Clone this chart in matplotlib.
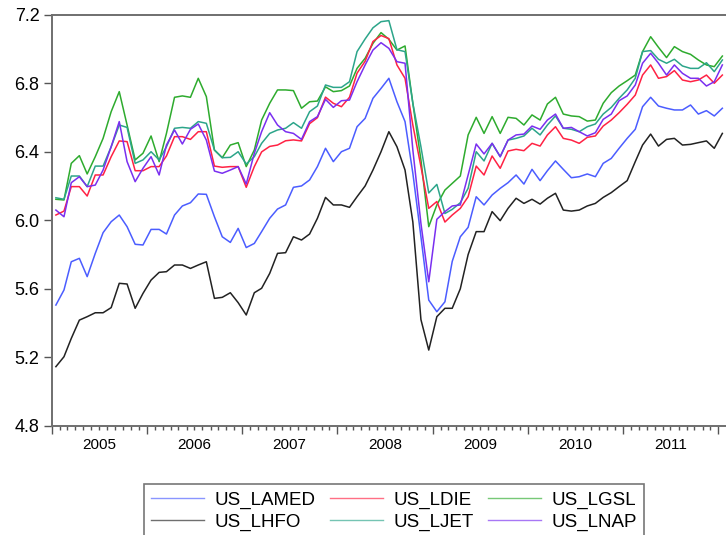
import pandas as pd
import matplotlib
matplotlib.use("Agg")
import matplotlib.pyplot as plt
import matplotlib.dates as mdates
import matplotlib.transforms as mtransforms

plt.rcParams['font.family'] = ['Liberation Sans', 'DejaVu Sans']

# monthly observations, 2005M01 .. 2012M01
months = pd.date_range("2005-01-01", periods=85, freq="MS") + pd.Timedelta(days=15)
years = [2005, 2006, 2007, 2008, 2009, 2010, 2011]

us_lamed = [5.505, 5.593, 5.758, 5.778, 5.671, 5.807, 5.928, 5.992, 6.031, 5.963, 5.860, 5.856, 5.947, 5.947, 5.920, 6.031, 6.084,
            6.103, 6.154, 6.152, 6.021, 5.904, 5.871, 5.953, 5.841, 5.865, 5.934, 6.012, 6.066, 6.090, 6.193, 6.201, 6.236, 6.314,
            6.421, 6.343, 6.401, 6.421, 6.547, 6.596, 6.713, 6.771, 6.830, 6.693, 6.577, 6.275, 5.904, 5.534, 5.466, 5.524, 5.760,
            5.904, 5.959, 6.138, 6.090, 6.148, 6.187, 6.220, 6.265, 6.212, 6.298, 6.232, 6.290, 6.347, 6.298, 6.249, 6.255, 6.271,
            6.255, 6.333, 6.362, 6.421, 6.479, 6.532, 6.664, 6.719, 6.668, 6.655, 6.645, 6.645, 6.674, 6.621, 6.641, 6.610, 6.655]
us_ldie = [6.031, 6.054, 6.197, 6.197, 6.142, 6.265, 6.265, 6.372, 6.464, 6.460, 6.290, 6.290, 6.314, 6.314, 6.376, 6.489, 6.489,
           6.473, 6.518, 6.518, 6.317, 6.310, 6.314, 6.314, 6.193, 6.314, 6.400, 6.432, 6.440, 6.465, 6.470, 6.464, 6.565, 6.600,
           6.720, 6.684, 6.664, 6.719, 6.860, 6.930, 7.045, 7.080, 7.062, 6.908, 6.830, 6.557, 6.314, 6.070, 6.110, 5.990, 6.031,
           6.070, 6.138, 6.317, 6.265, 6.376, 6.304, 6.405, 6.415, 6.407, 6.450, 6.434, 6.499, 6.547, 6.479, 6.469, 6.450, 6.485,
           6.493, 6.551, 6.586, 6.629, 6.678, 6.732, 6.849, 6.908, 6.830, 6.840, 6.875, 6.820, 6.810, 6.820, 6.849, 6.801, 6.849]
us_lgsl = [6.123, 6.119, 6.333, 6.378, 6.271, 6.372, 6.479, 6.635, 6.752, 6.557, 6.353, 6.392, 6.493, 6.343, 6.508, 6.719, 6.727,
           6.719, 6.830, 6.723, 6.411, 6.366, 6.440, 6.454, 6.314, 6.411, 6.586, 6.684, 6.762, 6.762, 6.758, 6.655, 6.693, 6.697,
           6.780, 6.752, 6.758, 6.785, 6.888, 6.947, 7.034, 7.097, 7.058, 6.995, 7.019, 6.684, 6.353, 5.963, 6.090, 6.177, 6.216,
           6.259, 6.499, 6.602, 6.508, 6.606, 6.508, 6.602, 6.596, 6.557, 6.616, 6.586, 6.680, 6.719, 6.621, 6.610, 6.606, 6.580,
           6.586, 6.684, 6.746, 6.785, 6.816, 6.849, 6.986, 7.073, 7.011, 6.951, 7.015, 6.986, 6.970, 6.937, 6.908, 6.898, 6.960]
us_lhfo = [5.145, 5.203, 5.310, 5.417, 5.437, 5.460, 5.460, 5.490, 5.632, 5.628, 5.486, 5.573, 5.651, 5.696, 5.700, 5.739, 5.739,
           5.719, 5.739, 5.758, 5.544, 5.550, 5.577, 5.519, 5.447, 5.577, 5.603, 5.690, 5.807, 5.811, 5.904, 5.885, 5.920, 6.012,
           6.134, 6.090, 6.090, 6.076, 6.138, 6.201, 6.294, 6.401, 6.518, 6.430, 6.294, 5.990, 5.420, 5.242, 5.437, 5.486, 5.486,
           5.600, 5.800, 5.934, 5.934, 6.051, 5.998, 6.070, 6.129, 6.099, 6.123, 6.095, 6.129, 6.158, 6.060, 6.054, 6.060, 6.084,
           6.099, 6.134, 6.162, 6.197, 6.232, 6.343, 6.440, 6.504, 6.434, 6.473, 6.479, 6.440, 6.444, 6.454, 6.464, 6.421, 6.508]
us_ljet = [6.132, 6.123, 6.259, 6.259, 6.197, 6.317, 6.317, 6.430, 6.557, 6.543, 6.333, 6.353, 6.401, 6.353, 6.430, 6.538, 6.543,
           6.538, 6.577, 6.567, 6.411, 6.366, 6.368, 6.401, 6.329, 6.372, 6.450, 6.508, 6.528, 6.538, 6.571, 6.538, 6.635, 6.668,
           6.791, 6.777, 6.777, 6.810, 6.986, 7.060, 7.125, 7.161, 7.167, 6.997, 6.986, 6.684, 6.430, 6.160, 6.210, 6.040, 6.064,
           6.103, 6.187, 6.401, 6.347, 6.450, 6.372, 6.469, 6.479, 6.493, 6.538, 6.499, 6.557, 6.610, 6.538, 6.532, 6.518, 6.547,
           6.563, 6.621, 6.660, 6.713, 6.762, 6.830, 6.986, 6.992, 6.941, 6.918, 6.941, 6.902, 6.888, 6.888, 6.921, 6.869, 6.937]
us_lnap = [6.060, 6.021, 6.220, 6.255, 6.197, 6.206, 6.294, 6.430, 6.577, 6.343, 6.226, 6.304, 6.372, 6.265, 6.440, 6.528, 6.446,
           6.532, 6.563, 6.469, 6.288, 6.275, 6.294, 6.314, 6.212, 6.392, 6.518, 6.629, 6.557, 6.518, 6.508, 6.473, 6.577, 6.606,
           6.707, 6.660, 6.699, 6.703, 6.810, 6.908, 6.995, 7.038, 7.005, 6.927, 6.918, 6.411, 5.982, 5.641, 6.006, 6.051, 6.084,
           6.090, 6.265, 6.446, 6.388, 6.450, 6.372, 6.469, 6.499, 6.504, 6.551, 6.532, 6.586, 6.621, 6.538, 6.543, 6.518, 6.493,
           6.512, 6.590, 6.621, 6.699, 6.727, 6.791, 6.918, 6.976, 6.918, 6.849, 6.908, 6.859, 6.830, 6.830, 6.785, 6.810, 6.908]

fig = plt.figure(figsize=(7.26, 5.35), dpi=100)
ax = fig.add_axes([0.0716, 0.2043, 0.9284, 0.7677])

series = [
    ("US_LAMED", us_lamed, "#4b5dff"),
    ("US_LHFO", us_lhfo, "#222222"),
    ("US_LDIE", us_ldie, "#ff2244"),
    ("US_LJET", us_ljet, "#2ca58a"),
    ("US_LGSL", us_lgsl, "#2eab2e"),
    ("US_LNAP", us_lnap, "#7a2ff0"),
]
# draw order: black and blue underneath
for name in ["US_LHFO", "US_LAMED", "US_LGSL", "US_LJET", "US_LDIE", "US_LNAP"]:
    for label, vals, col in series:
        if label == name:
            ax.plot(months, vals, color=col, lw=1.1, label=label)

ax.set_ylim(4.8, 7.2)
ax.set_yticks([4.8, 5.2, 5.6, 6.0, 6.4, 6.8, 7.2])
ax.set_yticklabels(["4.8", "5.2", "5.6", "6.0", "6.4", "6.8", "7.2"])
ax.set_xlim(pd.Timestamp("2005-01-01"), pd.Timestamp("2012-01-30"))

ax.xaxis.set_major_locator(mdates.YearLocator())
ax.xaxis.set_minor_locator(mdates.MonthLocator())
ax.xaxis.set_major_formatter(plt.NullFormatter())
ax.tick_params(axis="x", which="major", length=6, width=1, color="#555555")
ax.tick_params(axis="x", which="minor", length=3, width=1, color="#555555")
ax.tick_params(axis="y", which="major", length=6, width=1, color="#555555",
               labelsize=13, pad=3)

# year labels centred in each year
trans = mtransforms.blended_transform_factory(ax.transData, ax.transAxes)
for yr in years:
    ax.text(pd.Timestamp(f"{yr}-07-01"), -0.047, str(yr), transform=trans,
            ha="center", va="center", fontsize=11)

for side in ["top", "left", "bottom"]:
    ax.spines[side].set_color("#6f6f6f")
    ax.spines[side].set_linewidth(1.4)
ax.spines["right"].set_visible(False)

handles, labels = ax.get_legend_handles_labels()
order = ["US_LAMED", "US_LHFO", "US_LDIE", "US_LJET", "US_LGSL", "US_LNAP"]
hmap = dict(zip(labels, handles))
leg = fig.legend([hmap[k] for k in order], order, ncol=3,
                 loc="upper center", bbox_to_anchor=(0.5427, 1 - 484 / 535),
                 borderaxespad=0,
                 fontsize=13.5, frameon=True, fancybox=False, framealpha=1,
                 edgecolor="#777777", handlelength=2.8, handletextpad=0.55,
                 columnspacing=0.8, labelspacing=0.27, borderpad=0.4)
leg.get_frame().set_linewidth(1.2)
for ln in leg.get_lines():
    ln.set_alpha(0.65)
    ln.set_linewidth(1.0)

fig.savefig("out.png", dpi=100)
